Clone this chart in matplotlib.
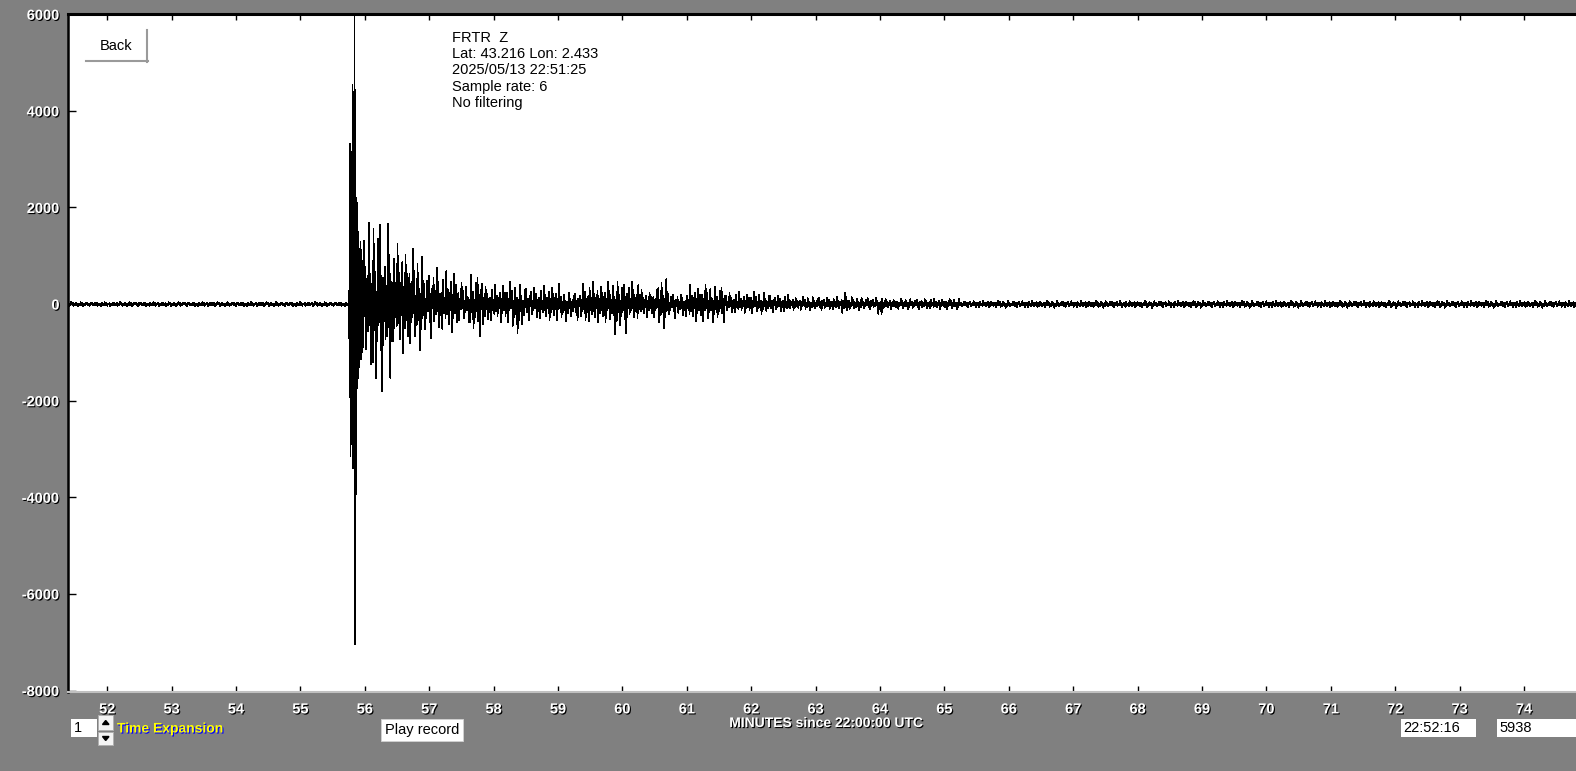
import matplotlib
matplotlib.use("Agg")
import matplotlib.pyplot as plt
import matplotlib.patheffects as pe
from matplotlib.patches import Rectangle, Polygon
import numpy as np

OUT = "out.png"
W, H = 1576, 771

# station / header text
HEADER = ["FRTR  Z", "Lat: 43.216 Lon: 2.433", "2025/05/13 22:51:25",
          "Sample rate: 6", "No filtering"]
XLABEL = "MINUTES since 22:00:00 UTC"
CLOCK = "22:52:16"
COUNT = "5938"
EXPANSION = "1"

X_TICKS = list(range(52, 75))
Y_TICKS = [-8000, -6000, -4000, -2000, 0, 2000, 4000, 6000]

# amplitude envelope: segment start (minutes), upper, lower (counts)
ENV_T = [51.39, 55.98, 56.049, 56.112, 56.189, 56.283, 56.329, 56.422, 56.516,
         56.609, 56.702, 56.795, 56.919, 57.044, 57.168, 57.292, 57.447, 57.634,
         57.867, 58.099, 58.286, 58.488, 58.798, 59.031, 59.342, 59.621, 59.839,
         60.087, 60.273, 60.553, 60.708, 61.019, 61.329, 61.593, 62.292, 62.602,
         63.41, 63.503, 63.969, 64.062, 65.242]
ENV_UP = [40, 1300, 2100, 1650, 1930, 1200, 1850, 1250, 1450,
          1270, 1150, 1030, 700, 830, 680, 780, 450, 640,
          400, 470, 420, 380, 420, 250, 460, 460, 480,
          520, 300, 545, 220, 400, 385, 250, 200, 150,
          290, 140, 140, 110, 65]
ENV_LO = [-50, -1250, -1250, -2180, -1900, -1200, -1910, -900, -1120,
          -1100, -900, -950, -750, -600, -600, -640, -380, -700,
          -400, -420, -600, -350, -380, -350, -420, -420, -630,
          -350, -300, -490, -300, -400, -385, -200, -180, -130,
          -200, -120, -250, -110, -75]

# first arrival, swing by swing (minutes, counts)
MAIN_T = [55.7547, 55.7624, 55.7702, 55.7764, 55.7826, 55.7888, 55.7950, 55.8012,
          55.8075, 55.8137, 55.8199, 55.8261, 55.8323, 55.8370, 55.8416, 55.8463,
          55.8525, 55.8587, 55.8649, 55.8711, 55.8773, 55.8835, 55.8898, 55.8960,
          55.9037, 55.9115, 55.9193, 55.9270, 55.9348, 55.9425, 55.9519, 55.9612,
          55.9705, 55.9798]
MAIN_V = [270, -1230, 3320, -3150, 2600, -2900, 3000, -2700,
          4540, -3400, 4400, -3000, 3800, -3200, 5960, -7040,
          2500, -3930, 2200, -2400, 2090, -1750, 1500, -1540,
          1200, -1300, 1140, -1100, 1300, -1140, 900, -1000,
          800, -900]

# shape of one stretch of ground motion, scaled by the envelope
NOISE = [0.5, -0.9, 0.25, -0.3, 1.0, -0.2, 0.6, -0.75, 0.15, -0.45,
         0.8, -0.35, 0.3, -1.0, 0.2, -0.55, 0.95, -0.25, 0.4, -0.7,
         0.15, -0.4, 0.7, -0.2, 0.85, -0.5, 0.3, -0.95, 0.45, -0.15,
         0.65, -0.6, 0.2, -0.35, 0.9, -0.25, 0.55, -0.8, 0.25, -0.4,
         0.35, -0.85, 0.75, -0.3, 0.2, -0.5, 1.0, -0.35, 0.45, -0.65,
         0.3, -0.2, 0.6, -0.9, 0.25, -0.45, 0.8, -0.3, 0.5, -0.6, 0.2]

X_MIN, X_MAX = 51.391, 74.807
Y_MIN, Y_MAX = -8031, 6010
STEP = 0.8 / 64.4  # a bit under one screen pixel


def build_trace():
    t = np.arange(ENV_T[0], X_MAX, STEP)
    seg = np.searchsorted(ENV_T, t, side="right") - 1
    p = np.resize(np.asarray(NOISE), len(t))
    up = np.asarray(ENV_UP, float)[seg]
    lo = np.asarray(ENV_LO, float)[seg]
    v = np.where(p > 0, p * up, -p * lo)
    keep = (t < MAIN_T[0]) | (t > MAIN_T[-1])
    t = np.concatenate([t[keep], MAIN_T])
    v = np.concatenate([v[keep], MAIN_V])
    order = np.argsort(t)
    return t[order], v[order]


def px_rect(x0, y0, x1, y1, **kw):
    return Rectangle((x0 / W, 1 - y1 / H), (x1 - x0) / W, (y1 - y0) / H,
                     transform=fig.transFigure, **kw)


def px_text(x, y, s, **kw):
    return fig.text(x / W, 1 - y / H, s, **kw)


plt.rcParams["font.family"] = ["Liberation Sans", "DejaVu Sans"]
shadow = [pe.withSimplePatchShadow(offset=(0.8, -0.8), shadow_rgbFace="black", alpha=1.0)]

fig = plt.figure(figsize=(W / 100, H / 100), dpi=100)
fig.patch.set_facecolor("#808080")
ax = fig.add_axes([68 / W, 1 - 692 / H, (W - 68) / W, (692 - 13.8) / H])
ax.set_facecolor("white")

t, v = build_trace()
ax.plot(t, v, color="black", lw=0.5, antialiased=False)
ax.set_xlim(X_MIN, X_MAX)
ax.set_ylim(Y_MIN, Y_MAX)

ax.set_xticks(X_TICKS)
ax.set_xticklabels([str(x) for x in X_TICKS])
ax.set_yticks(Y_TICKS)
ax.set_yticklabels([str(y) for y in Y_TICKS])
ax.tick_params(axis="x", direction="in", top=True, bottom=True, length=4, width=1,
               color="black", pad=7.5, labelsize=10.5, labelcolor="white")
ax.tick_params(axis="y", direction="in", left=True, right=False, length=5.5, width=1,
               color="black", pad=6, labelsize=10.5, labelcolor="white")
for lbl in ax.get_xticklabels() + ax.get_yticklabels():
    lbl.set_fontweight("bold")
    lbl.set_path_effects(shadow)

ax.spines["left"].set_linewidth(1.8)
ax.spines["left"].set_color("black")
ax.spines["top"].set_linewidth(2.2)
ax.spines["top"].set_color("black")
ax.spines["bottom"].set_linewidth(1.5)
ax.spines["bottom"].set_color("#c0c0c0")
ax.spines["right"].set_visible(False)

# header block
for i, line in enumerate(HEADER):
    px_text(452, 38 + i * 16.2, line, fontsize=10.5, color="black", va="center", ha="left")

# Back button
fig.add_artist(px_rect(86, 30, 148, 61, facecolor="white", edgecolor="none"))
fig.add_artist(plt.Line2D([147.3 / W, 147.3 / W], [1 - 30 / H, 1 - 61.5 / H],
                          transform=fig.transFigure, color="#9a9a9a", lw=1.5))
fig.add_artist(plt.Line2D([86 / W, 148 / W], [1 - 60.8 / H, 1 - 60.8 / H],
                          transform=fig.transFigure, color="#9a9a9a", lw=1.5))
px_text(116.5, 45.5, "Back", fontsize=10.5, color="black", ha="center", va="center")

# x axis caption
px_text(826, 723, XLABEL, fontsize=10, color="white", fontweight="bold",
        ha="center", va="center", path_effects=shadow)

# time expansion box and spinner
fig.add_artist(px_rect(71, 719, 96.5, 737, facecolor="white", edgecolor="none"))
px_text(73.5, 728.5, EXPANSION, fontsize=10.5, color="black", ha="left", va="center")
fig.add_artist(px_rect(98, 715, 113, 730, facecolor="#f4f4f4", edgecolor="#b0b0b0", lw=0.7))
fig.add_artist(px_rect(98, 731.5, 113, 745, facecolor="#f4f4f4", edgecolor="#b0b0b0", lw=0.7))
fig.add_artist(Polygon([(102.5 / W, 1 - 724.5 / H), (109 / W, 1 - 724.5 / H), (105.7 / W, 1 - 720.5 / H)],
                       closed=True, transform=fig.transFigure, color="black"))
fig.add_artist(Polygon([(102.5 / W, 1 - 736.5 / H), (109 / W, 1 - 736.5 / H), (105.7 / W, 1 - 740.5 / H)],
                       closed=True, transform=fig.transFigure, color="black"))
px_text(117, 728.5, "Time Expansion", fontsize=10, color="#ffff00", fontweight="bold",
        ha="left", va="center",
        path_effects=[pe.withSimplePatchShadow(offset=(0.8, -0.8), shadow_rgbFace="#0000ff", alpha=1.0)])

# play button
fig.add_artist(px_rect(381, 719, 463, 741, facecolor="white", edgecolor="#d0d0d0", lw=0.7))
px_text(422, 730, "Play record", fontsize=10.5, color="black", ha="center", va="center")

# clock and sample boxes
fig.add_artist(px_rect(1401, 719, 1476, 737, facecolor="white", edgecolor="none"))
px_text(1403.5, 728.5, CLOCK, fontsize=10.5, color="black", ha="left", va="center")
fig.add_artist(px_rect(1497, 719, 1576, 737, facecolor="white", edgecolor="none"))
px_text(1499.5, 728.5, COUNT, fontsize=10.5, color="black", ha="left", va="center")

fig.savefig(OUT, dpi=100, facecolor=fig.get_facecolor())
